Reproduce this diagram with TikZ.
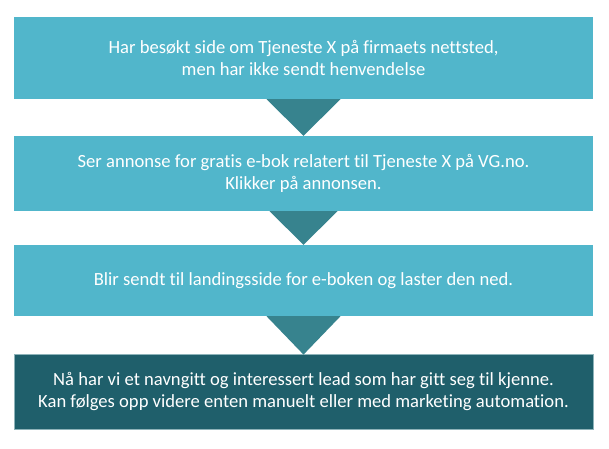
\documentclass[tikz,border=0pt]{standalone}
\usepackage{fontspec}
\setmainfont{Carlito}[Ligatures=NoCommon]
\definecolor{lightbox}{HTML}{51B6CB}
\definecolor{tricol}{HTML}{37838E}
\definecolor{darkbox}{HTML}{1F5F6B}
\definecolor{darkedge}{HTML}{8DB3B9}
\begin{document}
\begin{tikzpicture}[x=1pt,y=-1pt,
  stepbox/.style={rectangle, inner sep=0pt, minimum width=579pt, text=white,
    align=center, font=\fontsize{18.6}{21.5}\selectfont},
  lightstep/.style={stepbox, fill=lightbox},
  darkstep/.style={stepbox, fill=darkbox, draw=darkedge, line width=0.8pt}]
\useasboundingbox (0,0) rectangle (609,448);
\fill[white] (0,0) rectangle (609,448);
\node[lightstep, minimum height=82pt] (b1) at (303.5,58)
  {Har besøkt side om Tjeneste X på firmaets nettsted,\\men har ikke sendt henvendelse};
\node[lightstep, minimum height=75pt] (b2) at (303.5,173.5)
  {Ser annonse for gratis e-bok relatert til Tjeneste X på VG.no.\\Klikker på annonsen.};
\node[lightstep, minimum height=71pt] (b3) at (303.5,280.5)
  {Blir sendt til landingsside for e-boken og laster den ned.};
\node[darkstep, minimum height=75pt] (b4) at (303.5,391.5)
  {Nå har vi et navngitt og interessert lead som har gitt seg til kjenne.\\Kan følges opp videre enten manuelt eller med marketing automation.};
\fill[tricol] ([xshift=-37pt]b1.south) -- ([xshift=37pt]b1.south) -- (b2.north) -- cycle;
\fill[tricol] ([xshift=-34pt]b2.south) -- ([xshift=34pt]b2.south) -- (b3.north) -- cycle;
\fill[tricol] ([xshift=-37pt]b3.south) -- ([xshift=37pt]b3.south) -- ([yshift=-1pt]b4.north) -- cycle;
\end{tikzpicture}
\end{document}
